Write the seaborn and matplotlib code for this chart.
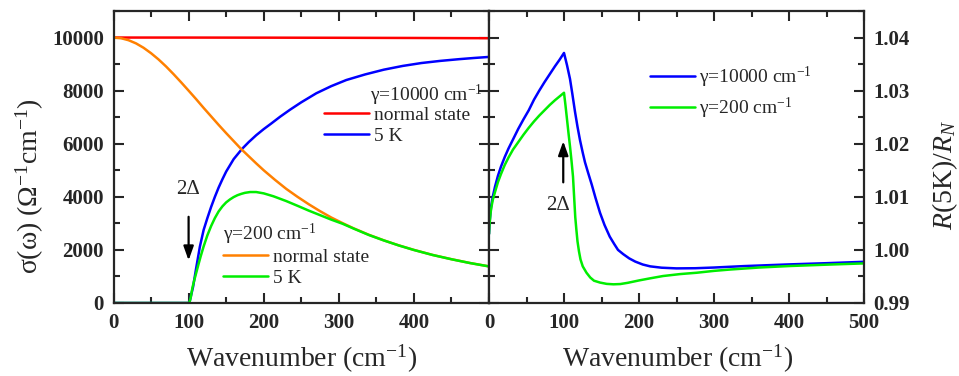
import numpy as np
import pandas as pd
import matplotlib
matplotlib.use("Agg")
import matplotlib.pyplot as plt
import seaborn as sns

# ---------------- data ----------------
# Left panel: optical conductivity sigma(omega), Ohm^-1 cm^-1
w_red = [0, 100, 200, 300, 400, 500]
s_red = [10000, 9999, 9996, 9991, 9984, 9975]

w_orange = [0, 10, 20, 30, 40, 50, 60, 70, 80, 90, 100, 110, 120, 130, 140,
            150, 160, 170, 180, 190, 200, 215, 230, 245, 260, 275, 290, 305,
            320, 340, 360, 380, 400, 425, 450, 475, 500]
s_orange = [10000, 9975, 9900, 9780, 9615, 9410, 9175, 8910, 8620, 8315,
            8000, 7680, 7350, 7030, 6710, 6400, 6100, 5800, 5530, 5260, 5000,
            4640, 4300, 4000, 3720, 3460, 3220, 3010, 2810, 2570, 2360, 2170,
            2000, 1810, 1650, 1505, 1380]

w_blue5 = [0, 50, 100, 101, 103, 106, 110, 115, 120, 125, 130, 135, 140, 145,
           150, 160, 171, 180, 190, 200, 210, 222, 235, 250, 270, 290, 310,
           335, 360, 385, 410, 435, 460, 480, 500]
s_blue5 = [0, 0, 0, 0, 250, 615, 1300, 2120, 2750, 3200, 3620, 4000, 4350,
           4660, 4950, 5420, 5800, 6060, 6320, 6550, 6760, 7020, 7280, 7560,
           7900, 8170, 8400, 8610, 8790, 8930, 9040, 9120, 9185, 9230, 9270]

w_green5 = [0, 50, 100, 101, 103, 105, 107, 110, 113, 116, 120, 125, 130,
            135, 140, 145, 150, 155, 160, 165, 170, 175, 182, 190, 200, 213,
            230, 246, 260, 275, 290, 305, 320, 340, 360, 380, 400, 425, 450,
            475, 500]
s_green5 = [0, 0, 0, 0, 230, 560, 800, 1120, 1440, 1750, 2130, 2550, 2900,
            3200, 3450, 3640, 3790, 3900, 3990, 4060, 4110, 4150, 4180, 4180,
            4130, 4020, 3840, 3650, 3480, 3310, 3140, 2985, 2800, 2562, 2356,
            2167, 1997, 1808, 1648, 1503, 1378]

# Right panel: reflectance ratio R(5K)/R_N
w_rb = [0, 0.5, 1, 2, 3, 5, 8, 12, 16, 21, 26, 32, 39, 46, 53, 60, 67, 74,
        81, 88, 94, 100, 104, 108, 111, 114.7, 118, 121.3, 125, 128, 132, 137,
        142, 148, 154, 161, 167, 172, 179, 187, 195, 205, 215, 230, 250, 275,
        300, 340, 400, 450, 500]
r_rb = [1.0030, 1.0045, 1.0055, 1.0071, 1.0083, 1.0100, 1.0119, 1.0140,
        1.0157, 1.0175, 1.0191, 1.0208, 1.0228, 1.0246, 1.0263, 1.0283,
        1.0300, 1.0316, 1.0331, 1.0346, 1.0358, 1.0371, 1.0348, 1.0322,
        1.0295, 1.0260, 1.0232, 1.0207, 1.0183, 1.0165, 1.0146, 1.0123,
        1.0098, 1.0070, 1.0047, 1.0025, 1.0011, 1.0000, 0.99920, 0.99840,
        0.99780, 0.99725, 0.99690, 0.99665, 0.99652, 0.99655, 0.99668,
        0.99695, 0.99727, 0.99750, 0.99776]

w_rg = [0, 0.5, 1, 2, 3, 5, 8, 12, 16, 21, 26, 32, 39, 46, 53, 60, 67, 74,
        81, 88, 94, 100, 102, 104, 106, 108, 110, 112, 113.5, 115, 116.5,
        118, 120, 122, 125, 130, 135, 140, 148, 157, 166, 175, 185, 200, 215,
        232, 255, 277, 300, 321, 360, 400, 450, 500]
r_rg = [1.0030, 1.0043, 1.0052, 1.0068, 1.0079, 1.0094, 1.0109, 1.0128,
        1.0143, 1.0160, 1.0174, 1.0189, 1.0203, 1.0217, 1.0230, 1.0242,
        1.0253, 1.0263, 1.0273, 1.0282, 1.0289, 1.0296, 1.0272, 1.0246,
        1.0220, 1.0195, 1.0168, 1.0138, 1.0100, 1.0062, 1.0038, 1.0016,
        0.9997, 0.9982, 0.9969, 0.9957, 0.9948, 0.9942, 0.99385, 0.99360,
        0.99352, 0.99357, 0.99380, 0.99425, 0.99465, 0.99508, 0.99545,
        0.99570, 0.99605, 0.99630, 0.99668, 0.99696, 0.99722, 0.99746]

left_xticks = [0, 100, 200, 300, 400]
left_yticks = [0, 2000, 4000, 6000, 8000, 10000]
right_xticks = [0, 100, 200, 300, 400, 500]
right_yticks = [0.99, 1.00, 1.01, 1.02, 1.03, 1.04]

# ---------------- style ----------------
sns.set_theme(style="ticks")
plt.rcParams["font.family"] = ["Liberation Serif", "DejaVu Serif"]
plt.rcParams["mathtext.fontset"] = "custom"
plt.rcParams["mathtext.rm"] = "Liberation Serif"
plt.rcParams["mathtext.it"] = "Liberation Serif:italic"
plt.rcParams["mathtext.bf"] = "Liberation Serif:bold"
plt.rcParams["axes.linewidth"] = 1.6

RED, ORANGE, BLUE, GREEN = "#ff0000", "#ff8000", "#0000ff", "#00ee00"
LW = 1.8

fig = plt.figure(figsize=(9.59, 3.76), dpi=100)
ax1 = fig.add_axes([113.5 / 959, 73 / 376, 375.5 / 959, 292 / 376])
ax2 = fig.add_axes([489 / 959, 73 / 376, 375 / 959, 292 / 376])

# ---------------- left panel ----------------
sns.lineplot(x=w_red, y=s_red, ax=ax1, color=RED, lw=LW, sort=False)
sns.lineplot(x=w_blue5, y=s_blue5, ax=ax1, color=BLUE, lw=LW, sort=False)
sns.lineplot(x=w_orange, y=s_orange, ax=ax1, color=ORANGE, lw=LW, sort=False)
sns.lineplot(x=w_green5, y=s_green5, ax=ax1, color=GREEN, lw=LW, sort=False)
l_red, l_blue, l_orange, l_green = ax1.get_lines()[:4]

ax1.set_xlim(0, 500)
ax1.set_ylim(0, 11000)
ax1.set_xticks(left_xticks)
ax1.set_xticks(np.arange(0, 501, 50), minor=True)
ax1.set_yticks(left_yticks)
ax1.set_yticks(np.arange(0, 11001, 1000), minor=True)

ax1.set_xlabel("Wavenumber (cm$^{-1}$)", fontsize=20)
ax1.xaxis.set_label_coords(0.502, -0.135)
ax1.set_ylabel("σ(ω) (Ω$^{-1}$cm$^{-1}$)", fontsize=20)
ax1.yaxis.set_label_coords(-0.18, 0.40)

leg1 = ax1.legend([l_red, l_blue], ["normal state", "5 K"], loc="center left",
                  bbox_to_anchor=(0.5606, 0.608), frameon=False, fontsize=14,
                  handlelength=2.3, handletextpad=0.25, borderpad=0,
                  borderaxespad=0, labelspacing=0.15)
ax1.add_artist(leg1)
ax1.text(0.683, 0.712, "γ=10000 cm$^{-1}$", transform=ax1.transAxes,
         fontsize=14, va="center", ha="left")
ax1.legend([l_orange, l_green], ["normal state", "5 K"], loc="center left",
           bbox_to_anchor=(0.2916, 0.1216), frameon=False, fontsize=14,
           handlelength=2.3, handletextpad=0.25, borderpad=0,
           borderaxespad=0, labelspacing=0.15)
ax1.text(0.2916, 0.236, "γ=200 cm$^{-1}$", transform=ax1.transAxes,
         fontsize=14, va="center", ha="left")

ax1.text(99, 4294, "2Δ", fontsize=15, ha="center", va="center")
ax1.annotate("", xy=(100, 1500), xytext=(100, 3352),
             arrowprops=dict(arrowstyle="-|>,head_length=0.7,head_width=0.25",
                             color="black", lw=1.6))

# ---------------- right panel ----------------
sns.lineplot(x=w_rb, y=r_rb, ax=ax2, color=BLUE, lw=LW, sort=False,
             label="γ=10000 cm$^{-1}$")
sns.lineplot(x=w_rg, y=r_rg, ax=ax2, color=GREEN, lw=LW, sort=False,
             label="γ=200 cm$^{-1}$")
ax2.set_xlim(0, 500)
ax2.set_ylim(0.99, 1.045)
ax2.set_xticks(right_xticks)
ax2.set_xticks(np.arange(0, 501, 50), minor=True)
ax2.set_yticks(right_yticks)
ax2.set_yticks(np.arange(0.99, 1.0451, 0.005), minor=True)
ax2.set_yticklabels(["%.2f" % v for v in right_yticks])

ax2.set_xlabel("Wavenumber (cm$^{-1}$)", fontsize=20)
ax2.xaxis.set_label_coords(0.503, -0.135)
ax2.yaxis.set_label_position("right")
ax2.set_ylabel("$R$(5K)/$R_N$", fontsize=20, rotation=90)
ax2.yaxis.set_label_coords(1.178, 0.438)

ax2.legend(loc="center left", bbox_to_anchor=(0.429, 0.719), frameon=False,
           fontsize=14, handlelength=2.3, handletextpad=0.25, borderpad=0,
           borderaxespad=0, labelspacing=0.3)

ax2.text(92, 1.0084, "2Δ", fontsize=15, ha="center", va="center")
ax2.annotate("", xy=(99, 1.0210), xytext=(99, 1.0122),
             arrowprops=dict(arrowstyle="-|>,head_length=0.7,head_width=0.25",
                             color="black", lw=1.6))

# ---------------- ticks ----------------
for ax in (ax1, ax2):
    ax.tick_params(which="both", direction="in", top=True, bottom=True,
                   left=True, right=True, width=1.5)
    ax.tick_params(which="major", length=7)
    ax.tick_params(which="minor", length=4.5)
    ax.tick_params(axis="both", which="major", labelsize=15, pad=7)
    for lab in ax.get_xticklabels() + ax.get_yticklabels():
        lab.set_fontweight("bold")

ax1.tick_params(labelleft=True, labelright=False)
ax2.tick_params(labelleft=False, labelright=True)
for lab in ax2.get_yticklabels():
    lab.set_fontweight("bold")

fig.savefig("out.png", dpi=100)
